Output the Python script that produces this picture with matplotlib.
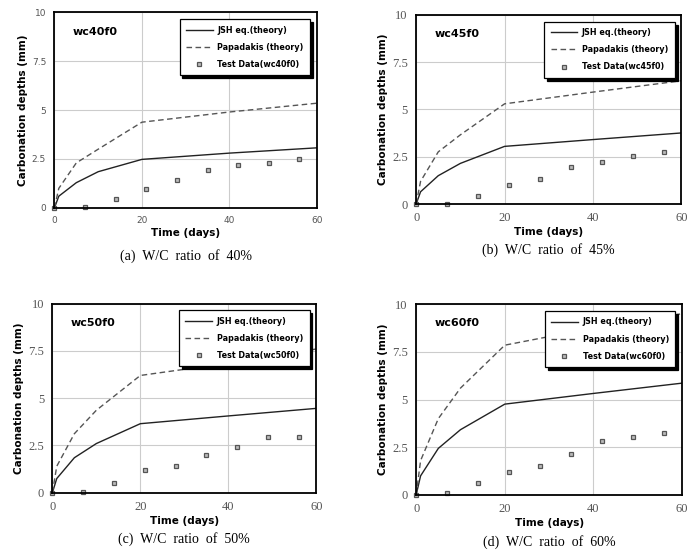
import numpy as np
import matplotlib.pyplot as plt

# theory curves (sampled at these days)
t_theory = [0, 1, 5, 10, 20, 40, 60]
jsh = {
    "wc40f0": [0, 0.6, 1.29, 1.85, 2.48, 2.8, 3.07],
    "wc45f0": [0, 0.65, 1.5, 2.15, 3.05, 3.41, 3.76],
    "wc50f0": [0, 0.75, 1.85, 2.6, 3.65, 4.06, 4.46],
    "wc60f0": [0, 1.0, 2.44, 3.42, 4.76, 5.32, 5.86],
}
papadakis = {
    "wc40f0": [0, 1.0, 2.3, 3.0, 4.38, 4.9, 5.35],
    "wc45f0": [0, 1.2, 2.76, 3.66, 5.3, 5.92, 6.52],
    "wc50f0": [0, 1.4, 3.12, 4.36, 6.2, 6.85, 7.6],
    "wc60f0": [0, 1.8, 4.0, 5.6, 7.85, 8.75, 9.5],
}

# test data
t_test = [0, 7, 14, 21, 28, 35, 42, 49, 56]
test = {
    "wc40f0": [0, 0.05, 0.48, 0.95, 1.45, 1.96, 2.19, 2.31, 2.48],
    "wc45f0": [0, 0.02, 0.44, 1.0, 1.34, 1.96, 2.24, 2.53, 2.74],
    "wc50f0": [0, 0.05, 0.54, 1.2, 1.42, 2.02, 2.43, 2.93, 2.97],
    "wc60f0": [0, 0.12, 0.63, 1.22, 1.52, 2.13, 2.83, 3.05, 3.23],
}

names = ["wc40f0", "wc45f0", "wc50f0", "wc60f0"]
captions = ["(a)  W/C  ratio  of  40%", "(b)  W/C  ratio  of  45%",
            "(c)  W/C  ratio  of  50%", "(d)  W/C  ratio  of  60%"]
yticks = [0, 2.5, 5, 7.5, 10]
yticklabels = ["0", "2.5", "5", "7.5", "10"]
xticks = [0, 20, 40, 60]

# axes rectangles in figure fraction
boxes = [
    [0.079, 0.624, 0.381, 0.354],
    [0.604, 0.631, 0.385, 0.342],
    [0.076, 0.109, 0.383, 0.342],
    [0.604, 0.105, 0.386, 0.345],
]
tickfonts = ["DejaVu Sans", "Liberation Serif", "Liberation Serif", "Liberation Serif"]

fig = plt.figure(figsize=(6.89, 5.53), dpi=100)

for i, name in enumerate(names):
    ax = fig.add_axes(boxes[i])
    ax.plot(t_theory, jsh[name], color="#222222", lw=1.0, label="JSH eq.(theory)")
    ax.plot(t_theory, papadakis[name], color="#555555", lw=1.0, ls=(0, (4, 2.5)),
            label="Papadakis (theory)")
    ax.plot(t_test, test[name], ls="none", marker="s", ms=3.5, mfc="#bbbbbb",
            mec="#555555", mew=0.9, label="Test Data(" + name + ")", clip_on=False)
    ax.set_xlim(0, 60)
    ax.set_ylim(0, 10)
    ax.set_xticks(xticks)
    ax.set_yticks(yticks)
    ax.set_yticklabels(yticklabels)
    ax.grid(color="#cccccc", lw=0.8)
    ax.set_axisbelow(True)
    ax.tick_params(length=0, pad=6, labelsize=9 if i else 6.5, labelcolor="#555555")
    for lab in ax.get_xticklabels() + ax.get_yticklabels():
        lab.set_fontfamily(tickfonts[i])
    for s in ax.spines.values():
        s.set_linewidth(1.3)
    ax.set_xlabel("Time (days)", fontsize=7.5, fontweight="bold", labelpad=2)
    ax.set_ylabel("Carbonation depths (mm)", fontsize=7.5, fontweight="bold", labelpad=3)
    ax.text(0.07, 0.9, name, transform=ax.transAxes, fontsize=8, fontweight="bold",
            va="center")
    leg = ax.legend(loc="upper right", bbox_to_anchor=(0.99, 0.985),
                    prop={"weight": "bold", "size": 5.8}, markerfirst=True,
                    handlelength=3.3, handletextpad=0.6, fancybox=False, framealpha=1,
                    shadow={"color": "black", "alpha": 1}, borderpad=0.8,
                    labelspacing=1.0, edgecolor="black")
    leg.get_frame().set_linewidth(0.9)
    ax.text(0.5, -0.245, captions[i], transform=ax.transAxes, ha="center",
            va="center", fontsize=10, fontfamily="Liberation Serif")

fig.savefig("out.png", dpi=100)
